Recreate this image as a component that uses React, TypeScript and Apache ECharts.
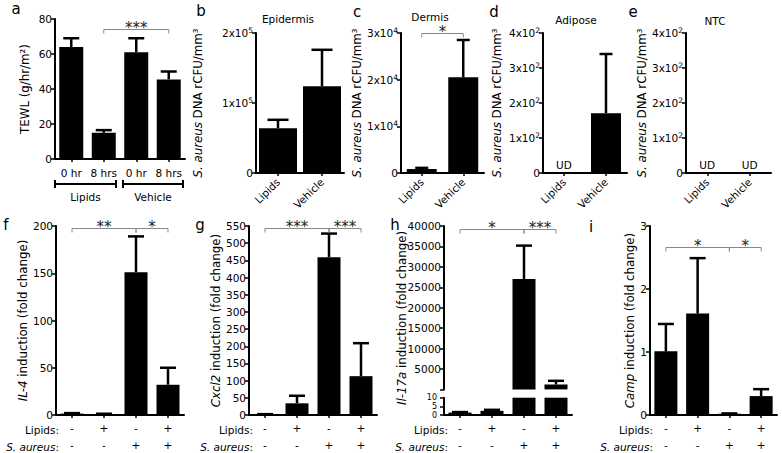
import React, { useEffect, useRef } from 'react';
import * as echarts from 'echarts';

const FONT = '"DejaVu Sans", Verdana, sans-serif';
const FS = 10.5;
const TFS = 11.8;

// ---- panel a ----
const aCategories = ['0 hr', '8 hrs', '0 hr', '8 hrs'];
const aMeans = [64, 15, 61, 45.5];
const aUpper = [69, 16.5, 69, 50];
const aGroups = ['Lipids', 'Vehicle'];
const aGroupSpans = [[0, 1], [2, 3]];
const aSig = [[1, 3, 74.3]];
const aSigText = ['***'];

// ---- panels b-e ----
const dnaCategories = ['Lipids', 'Vehicle'];
const bMeans = [64000, 124000];
const bUpper = [76000, 176000];
const cMeans = [850, 20500];
const cUpper = [1100, 28500];
const cSig = [[0, 1, 30000]];
const cSigText = ['*'];
const dMeans = [null, 171];
const dUpper = [null, 340];
const eMeans = [null, null];
const eUpper = [null, null];
const bTicks = ['0', '1x10{s|5}', '2x10{s|5}'];
const cTicks = ['0', '1x10{s|4}', '2x10{s|4}', '3x10{s|4}'];
const deTicks = ['0', '1x10{s|2}', '2x10{s|2}', '3x10{s|2}', '4x10{s|2}'];

// ---- panels f-i ----
const lipidsSigns = ['-', '+', '-', '+'];
const aureusSigns = ['-', '-', '+', '+'];
const fMeans = [1.5, 1, 151, 32];
const fUpper = [2, 1.3, 189, 50];
const fSig = [[0, 2, 198], [2, 3, 198]];
const fSigText = ['**', '*'];
const gMeans = [2, 34, 459, 113];
const gUpper = [2.5, 56, 528, 209];
const gSig = [[0, 2, 545], [2, 3, 545]];
const gSigText = ['***', '***'];
const hMeans = [1.4, 2.4, 27000, 1200];
const hUpper = [1.7, 3, 35200, 2100];
const hSig = [[0, 2, 39300], [2, 3, 39300]];
const hSigText = ['*', '***'];
const hLowerTicks = [0, 5, 10];
const iMeans = [1.01, 1.61, 0.02, 0.3];
const iUpper = [1.445, 2.49, 0.025, 0.41];
const iSig = [[0, 2, 2.665], [2, 3, 2.665]];
const iSigText = ['*', '*'];

function buildOption() {
  const grid: any[] = [];
  const xAxis: any[] = [];
  const yAxis: any[] = [];
  const series: any[] = [];
  const graphic: any[] = [];

  const txt = (text: string, x: number, y: number, extra: any = {}) => ({
    type: 'text',
    x,
    y,
    silent: true,
    style: {
      text,
      fontFamily: FONT,
      fontSize: FS,
      fill: '#000',
      align: 'center',
      verticalAlign: 'middle',
      ...extra,
    },
  });

  function panel(p: any) {
    const gi = grid.length;
    grid.push({ left: p.left, top: p.top, width: p.width, height: p.height, containLabel: false });
    xAxis.push({
      gridIndex: gi,
      type: 'category',
      show: p.showX !== false,
      data: p.cats.map((_: any, i: number) => String(i)),
      axisLine: { show: true, lineStyle: { color: '#000', width: 2 } },
      axisTick: { show: true, alignWithLabel: true, length: 3, lineStyle: { color: '#000', width: 1.5 } },
      axisLabel: {
        show: true,
        interval: 0,
        hideOverlap: false,
        margin: p.xMargin ?? 6,
        rotate: p.xRotate ?? 0,
        fontFamily: FONT,
        fontSize: FS,
        color: '#000',
        lineHeight: p.xLineHeight ?? 13,
        formatter: (_v: string, i: number) => p.xFmt(i),
      },
    });
    yAxis.push({
      gridIndex: gi,
      type: 'value',
      min: p.min,
      max: p.max,
      interval: p.interval,
      name: p.name ?? '',
      nameLocation: 'middle',
      nameGap: p.nameGap ?? 30,
      nameRotate: 90,
      nameTextStyle: {
        fontFamily: FONT,
        fontSize: TFS,
        color: '#000',
        rich: { i: { fontFamily: FONT, fontSize: TFS, fontStyle: 'italic', color: '#000' } },
      },
      splitLine: { show: false },
      axisLine: { show: true, lineStyle: { color: '#000', width: 2 } },
      axisTick: { show: true, length: 4, lineStyle: { color: '#000', width: 1.5 } },
      axisLabel: {
        show: p.yLabels !== false,
        margin: 3,
        hideOverlap: false,
        showMinLabel: true,
        showMaxLabel: true,
        fontFamily: FONT,
        fontSize: FS,
        color: '#000',
        lineHeight: 13,
        rich: {
          s: { fontFamily: FONT, fontSize: 7.5, color: '#000', verticalAlign: 'top', lineHeight: 9 },
        },
        formatter: p.yFmt ?? ((v: number) => String(v)),
      },
    });
    series.push({
      type: 'bar',
      xAxisIndex: gi,
      yAxisIndex: gi,
      barWidth: p.barWidth,
      clip: true,
      itemStyle: { color: '#000' },
      data: p.means.map((m: any) =>
        m === null
          ? {
              value: 0,
              label: {
                show: true,
                position: 'top',
                distance: 3,
                formatter: 'UD',
                fontFamily: FONT,
                fontSize: FS,
                color: '#000',
              },
            }
          : m
      ),
    });
    const errData: any[] = [];
    p.means.forEach((m: any, i: number) => {
      const u = p.upper[i];
      if (m === null || u === null) return;
      if (u > p.max) return;
      if (p.errMin !== undefined && m < p.errMin) return;
      errData.push([i, m, u]);
    });
    const cap = p.cap;
    series.push({
      type: 'custom',
      xAxisIndex: gi,
      yAxisIndex: gi,
      encode: { x: 0, y: [1, 2] },
      data: errData,
      z: 5,
      renderItem: (_params: any, api: any) => {
        const pm = api.coord([api.value(0), api.value(1)]);
        const pu = api.coord([api.value(0), api.value(2)]);
        return {
          type: 'group',
          children: [
            {
              type: 'line',
              shape: { x1: pm[0], y1: pm[1], x2: pu[0], y2: pu[1] },
              style: { stroke: '#000', lineWidth: 2.5 },
            },
            {
              type: 'line',
              shape: { x1: pu[0] - cap / 2, y1: pu[1], x2: pu[0] + cap / 2, y2: pu[1] },
              style: { stroke: '#000', lineWidth: 2.5 },
            },
          ],
        };
      },
    });
    if (p.sig) {
      const sigText = p.sigText;
      series.push({
        type: 'custom',
        xAxisIndex: gi,
        yAxisIndex: gi,
        encode: { x: [0, 1], y: 2 },
        data: p.sig,
        clip: false,
        z: 6,
        renderItem: (params: any, api: any) => {
          const a = api.coord([api.value(0), api.value(2)]);
          const b = api.coord([api.value(1), api.value(2)]);
          const ay = Math.round(a[1]) + 0.5;
          return {
            type: 'group',
            children: [
              {
                type: 'polyline',
                shape: {
                  points: [
                    [a[0], ay + 4],
                    [a[0], ay],
                    [b[0], ay],
                    [b[0], ay + 4],
                  ],
                },
                style: { stroke: '#888', lineWidth: 1, fill: 'none' },
              },
              {
                type: 'text',
                x: (a[0] + b[0]) / 2,
                y: ay - 2,
                style: {
                  text: sigText[params.dataIndex],
                  fontFamily: FONT,
                  fontSize: 15,
                  fill: '#222',
                  align: 'center',
                  verticalAlign: 'middle',
                },
              },
            ],
          };
        },
      });
    }
    return gi;
  }

  // ---------- a ----------
  const ga = panel({
    left: 55, top: 19, width: 130, height: 140,
    cats: aCategories, xFmt: (i: number) => aCategories[i], xMargin: 7,
    means: aMeans, upper: aUpper, min: 0, max: 80, interval: 20,
    barWidth: 24, cap: 16, sig: aSig, sigText: aSigText,
    name: 'TEWL (g/hr/m²)', nameGap: 24,
  });
  series.push({
    type: 'custom',
    xAxisIndex: ga,
    yAxisIndex: ga,
    encode: { x: [0, 1] },
    data: aGroupSpans,
    clip: false,
    renderItem: (params: any, api: any) => {
      const p0 = api.coord([api.value(0), 0]);
      const p1 = api.coord([api.value(1), 0]);
      const band = api.size([1, 0])[0];
      const x0 = p0[0] - band / 2 + (params.dataIndex === 0 ? 0 : 3);
      const x1 = p1[0] + band / 2 - (params.dataIndex === 0 ? 4 : 2);
      const y = p0[1] + 25;
      return {
        type: 'group',
        children: [
          { type: 'line', shape: { x1: x0, y1: y, x2: x1, y2: y }, style: { stroke: '#000', lineWidth: 2 } },
          { type: 'line', shape: { x1: x0, y1: y - 4, x2: x0, y2: y + 4 }, style: { stroke: '#000', lineWidth: 2 } },
          { type: 'line', shape: { x1: x1, y1: y - 4, x2: x1, y2: y + 4 }, style: { stroke: '#000', lineWidth: 2 } },
          {
            type: 'text',
            x: (x0 + x1) / 2,
            y: y + 13,
            style: {
              text: aGroups[params.dataIndex],
              fontFamily: FONT,
              fontSize: FS,
              fill: '#000',
              align: 'center',
              verticalAlign: 'middle',
            },
          },
        ],
      };
    },
  });

  const dnaName = '{i|S. aureus} DNA rCFU/mm³';
  // ---------- b ----------
  panel({
    left: 256, top: 33, width: 88, height: 140,
    cats: dnaCategories, xFmt: (i: number) => dnaCategories[i], xRotate: 45, xMargin: 7,
    means: bMeans, upper: bUpper, min: 0, max: 200000, interval: 100000,
    yFmt: (v: number) => bTicks[Math.round(v / 100000)],
    barWidth: 38, cap: 21, name: dnaName, nameGap: 52,
  });
  // ---------- c ----------
  panel({
    left: 401, top: 33, width: 83, height: 140,
    cats: dnaCategories, xFmt: (i: number) => dnaCategories[i], xRotate: 45, xMargin: 7,
    means: cMeans, upper: cUpper, min: 0, max: 30000, interval: 10000,
    yFmt: (v: number) => cTicks[Math.round(v / 10000)],
    barWidth: 30, cap: 13, sig: cSig, sigText: cSigText, name: dnaName, nameGap: 35,
  });
  // ---------- d ----------
  panel({
    left: 543, top: 33, width: 84, height: 140,
    cats: dnaCategories, xFmt: (i: number) => dnaCategories[i], xRotate: 45, xMargin: 7,
    means: dMeans, upper: dUpper, min: 0, max: 400, interval: 100,
    yFmt: (v: number) => deTicks[Math.round(v / 100)],
    barWidth: 30, cap: 13, name: dnaName, nameGap: 40,
  });
  // ---------- e ----------
  panel({
    left: 686, top: 33, width: 85, height: 140,
    cats: dnaCategories, xFmt: (i: number) => dnaCategories[i], xRotate: 45, xMargin: 7,
    means: eMeans, upper: eUpper, min: 0, max: 400, interval: 100,
    yFmt: (v: number) => deTicks[Math.round(v / 100)],
    barWidth: 30, cap: 13, name: dnaName, nameGap: 31,
  });

  const signFmt = (i: number) => `${lipidsSigns[i]}\n${aureusSigns[i]}`;
  const bottomTop = 226;
  const bottomH = 191;
  // ---------- f ----------
  panel({
    left: 56, top: bottomTop, width: 128, height: bottomH,
    cats: lipidsSigns, xFmt: signFmt, xMargin: 4, xLineHeight: 17,
    means: fMeans, upper: fUpper, min: 0, max: 200, interval: 50,
    barWidth: 23, cap: 16, sig: fSig, sigText: fSigText,
    name: '{i|IL-4} induction (fold change)', nameGap: 27,
  });
  // ---------- g ----------
  panel({
    left: 249, top: bottomTop, width: 128, height: bottomH,
    cats: lipidsSigns, xFmt: signFmt, xMargin: 4, xLineHeight: 17,
    means: gMeans, upper: gUpper, min: 0, max: 550, interval: 50,
    barWidth: 23, cap: 16, sig: gSig, sigText: gSigText,
    name: '{i|Cxcl2} induction (fold change)', nameGap: 23,
  });
  // ---------- h (broken axis) ----------
  const hZero = 389.4;
  panel({
    left: 444, top: bottomTop, width: 128, height: hZero - bottomTop,
    cats: lipidsSigns, xFmt: () => '', showX: false,
    means: hMeans, upper: hUpper, min: 0, max: 40000, interval: 5000, errMin: 100,
    yFmt: (v: number) => (v === 0 ? '' : String(v)),
    barWidth: 23, cap: 16, sig: hSig, sigText: hSigText,
  });
  const ghLow = panel({
    left: 444, top: 397.7, width: 128, height: 417 - 397.7,
    cats: lipidsSigns, xFmt: signFmt, xMargin: 4, xLineHeight: 17,
    means: hMeans, upper: hUpper, min: 0, max: 10, interval: 5, yLabels: false,
    barWidth: 23, cap: 16,
  });
  // tick labels of the short lower segment, placed through the axis scale
  series.push({
    type: 'custom',
    xAxisIndex: ghLow,
    yAxisIndex: ghLow,
    encode: { y: 0 },
    data: hLowerTicks.map((v) => [v]),
    clip: false,
    z: 7,
    renderItem: (_params: any, api: any) => {
      const v = api.value(0);
      const p = api.coord([0, v]);
      const band = api.size([1, 0])[0];
      return {
        type: 'text',
        x: p[0] - band / 2 - 7,
        y: p[1],
        style: {
          text: String(v),
          fontFamily: FONT,
          fontSize: 8,
          lineHeight: 8,
          fill: '#000',
          align: 'right',
          verticalAlign: 'middle',
        },
      };
    },
  });
  graphic.push({
    type: 'text',
    x: 402,
    y: 318,
    rotation: Math.PI / 2,
    silent: true,
    style: {
      text: '{i|Il-17a} induction (fold change)',
      fontFamily: FONT,
      fontSize: TFS,
      fill: '#000',
      align: 'center',
      verticalAlign: 'middle',
      rich: { i: { fontFamily: FONT, fontSize: TFS, fontStyle: 'italic', fill: '#000' } },
    },
  });
  // ---------- i ----------
  panel({
    left: 650, top: bottomTop, width: 127, height: bottomH,
    cats: lipidsSigns, xFmt: signFmt, xMargin: 4, xLineHeight: 17,
    means: iMeans, upper: iUpper, min: 0, max: 3, interval: 1,
    barWidth: 23, cap: 16, sig: iSig, sigText: iSigText,
    name: '{i|Camp} induction (fold change)', nameGap: 14,
  });

  // row headers for bottom panels
  const headerX = [59, 253, 448, 653];
  headerX.forEach((x) => {
    graphic.push(txt('Lipids:', x, 429.5, { align: 'right' }));
    graphic.push({
      type: 'text',
      x,
      y: 446.5,
      silent: true,
      style: {
        text: '{i|S. aureus}:',
        fontFamily: FONT,
        fontSize: FS,
        fill: '#000',
        align: 'right',
        verticalAlign: 'middle',
        rich: { i: { fontFamily: FONT, fontSize: FS, fontStyle: 'italic', fill: '#000' } },
      },
    });
  });

  // panel letters
  const letters: [string, number, number][] = [
    ['a', 16, 9], ['b', 201, 11], ['c', 357, 12], ['d', 494, 12], ['e', 633, 12],
    ['f', 6, 225], ['g', 200, 225], ['h', 395, 225], ['i', 591, 227],
  ];
  letters.forEach(([t, x, y]) => graphic.push(txt(t, x, y, { fontSize: 15 })));

  // panel titles
  graphic.push(txt('Epidermis', 288, 19));
  graphic.push(txt('Dermis', 430, 17));
  graphic.push(txt('Adipose', 576, 20));
  graphic.push(txt('NTC', 715, 21));

  return {
    animation: false,
    backgroundColor: '#fff',
    textStyle: { fontFamily: FONT },
    grid,
    xAxis,
    yAxis,
    series,
    graphic,
  };
}

export default function App() {
  const ref = useRef<HTMLDivElement>(null);
  useEffect(() => {
    if (!ref.current) return;
    const chart = echarts.init(ref.current, undefined, { renderer: 'svg' });
    chart.setOption(buildOption() as any);
    return () => chart.dispose();
  }, []);
  return <div ref={ref} style={{ width: 782, height: 453, position: 'absolute', left: 0, top: 0 }} />;
}
